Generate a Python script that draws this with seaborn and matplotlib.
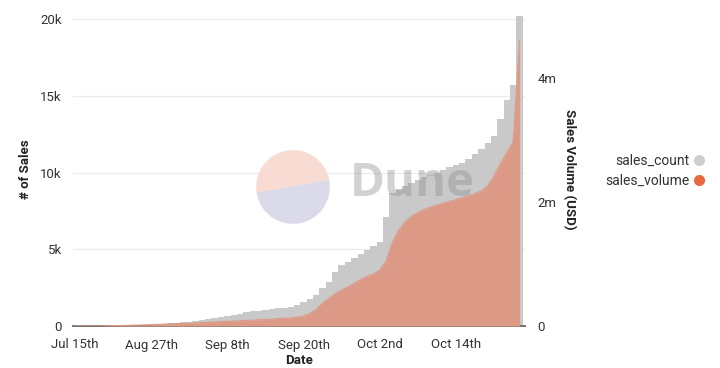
import matplotlib
matplotlib.use("Agg")
import matplotlib.pyplot as plt
from matplotlib.lines import Line2D
from matplotlib.patches import Wedge
import numpy as np
import pandas as pd
import seaborn as sns

sns.set_theme(style="white")
plt.rcParams["font.family"] = ["Roboto", "DejaVu Sans"]

# categorias do eixo x: um dia isolado em julho e depois dias seguidos
datas = ["2021-07-15"] + [d.strftime("%Y-%m-%d") for d in pd.date_range("2021-08-16", "2021-10-24")]

# vendas acumuladas (numero de vendas)
sales_count = [
    0, 0, 0, 0, 0, 20, 30, 40, 50, 60,
    70, 90, 110, 130, 150, 180, 210, 240, 280, 320,
    370, 430, 500, 580, 650, 720, 800, 900, 970, 1000,
    1050, 1100, 1150, 1180, 1220, 1370, 1560, 1750, 2000, 2500,
    2900, 3500, 4000, 4200, 4400, 4700, 4950, 5200, 5500, 7100,
    8700, 8900, 9100, 9300, 9500, 9700, 9850, 10000, 10150, 10350,
    10500, 10650, 10900, 11200, 11550, 11900, 12400, 13500, 14700, 15700,
    20200,
]

# volume acumulado em USD
sales_volume = [
    0, 0, 0, 0, 0, 5e3, 6e3, 8e3, 1.0e4, 1.2e4,
    1.5e4, 1.8e4, 2.1e4, 2.5e4, 3.0e4, 3.5e4, 3.8e4, 4.2e4, 4.5e4, 5.0e4,
    5.5e4, 6.0e4, 6.5e4, 7.0e4, 7.5e4, 8.0e4, 8.5e4, 9.0e4, 9.5e4, 1.0e5,
    1.05e5, 1.1e5, 1.2e5, 1.25e5, 1.3e5, 1.4e5, 1.6e5, 2.0e5, 2.7e5, 3.7e5,
    4.5e5, 5.2e5, 5.8e5, 6.3e5, 6.9e5, 7.5e5, 8.0e5, 8.4e5, 9.0e5, 1.05e6,
    1.35e6, 1.55e6, 1.68e6, 1.77e6, 1.83e6, 1.88e6, 1.92e6, 1.95e6, 1.98e6, 2.01e6,
    2.04e6, 2.07e6, 2.10e6, 2.14e6, 2.18e6, 2.26e6, 2.42e6, 2.62e6, 2.80e6, 2.97e6,
    4.6e6,
]

tick_datas = ["2021-07-15", "2021-08-27", "2021-09-08", "2021-09-20", "2021-10-02", "2021-10-14"]
tick_rotulos = ["Jul 15th", "Aug 27th", "Sep 8th", "Sep 20th", "Oct 2nd", "Oct 14th"]

df = pd.DataFrame({"Date": datas, "sales_count": sales_count, "sales_volume": sales_volume})
df["pos"] = np.arange(len(df))

COR_CINZA = "#c9c9c9"
COR_AREA = "#dc9a86"
COR_LARANJA = "#e8693f"
COR_TEXTO = "#333333"

fig = plt.figure(figsize=(7.2, 3.68), dpi=100)
ax = fig.add_axes([73 / 720, 1 - 326 / 368, 452 / 720, 313 / 368])

sns.barplot(data=df, x="Date", y="sales_count", color=COR_CINZA, width=1.0,
            saturation=1, edgecolor="none", ax=ax, zorder=2)
ax.set_ylim(0, 20400)
ax.set_xlim(-0.3, 70.87)
ax.set_yticks([0, 5000, 10000, 15000, 20000])
ax.set_yticklabels(["0", "5k", "10k", "15k", "20k"])
posicoes = [datas.index(d) for d in tick_datas]
ax.set_xticks(posicoes)
ax.set_xticklabels(tick_rotulos)
ax.yaxis.grid(True, color="#ececec", linewidth=1, zorder=0)
ax.set_axisbelow(True)
ax.tick_params(axis="y", length=0, labelsize=9.5, colors=COR_TEXTO, pad=8)
ax.tick_params(axis="x", length=0, labelsize=9.5, colors=COR_TEXTO, pad=9)
ax.set_xlabel("Date", fontsize=9.5, fontweight="bold", color="#222222", labelpad=2)
ax.set_ylabel("# of Sales", fontsize=9.5, fontweight="bold", color="#222222", labelpad=6)
for lado in ["left", "right", "top"]:
    ax.spines[lado].set_visible(False)
ax.spines["bottom"].set_color("#666666")
ax.spines["bottom"].set_linewidth(1.3)
ax.spines["bottom"].set_zorder(5)

ax2 = ax.twinx()
ax2.fill_between(df["pos"], df["sales_volume"], color=COR_AREA, linewidth=0, zorder=3)
sns.lineplot(data=df, x="pos", y="sales_volume", color=COR_AREA, linewidth=0.8, ax=ax2)
ax2.set_ylim(0, 5.05e6)
ax2.set_yticks([0, 2e6, 4e6])
ax2.set_yticklabels(["0", "2m", "4m"])
ax2.tick_params(axis="y", length=0, labelsize=9.5, colors=COR_TEXTO, pad=9)
ax2.set_ylabel("Sales Volume (USD)", fontsize=9.5, fontweight="bold", color="#222222",
               rotation=270, labelpad=14)
for lado in ["left", "right", "top", "bottom"]:
    ax2.spines[lado].set_visible(False)
ax2.set_xlim(ax.get_xlim())

# marca d'agua
ax_logo = fig.add_axes([255 / 720, 1 - 225 / 368, 76 / 720, 76 / 368])
ax_logo.set_xlim(-1.05, 1.05)
ax_logo.set_ylim(-1.05, 1.05)
ax_logo.set_aspect("equal")
ax_logo.axis("off")
ax_logo.add_patch(Wedge((0, 0), 1, 10, 190, color="#f8dcd3"))
ax_logo.add_patch(Wedge((0, 0), 1, 190, 370, color="#dadaeb"))
fig.text(412 / 720, 1 - 184 / 368, "Dune", fontsize=34, fontweight="bold",
         color="#8f8f8f", alpha=0.4, ha="center", va="center", family="Open Sans")

legenda = [
    Line2D([], [], marker="o", linestyle="", color="#cfcfcf", markersize=7),
    Line2D([], [], marker="o", linestyle="", color=COR_LARANJA, markersize=7),
]
fig.legend(legenda, ["sales_count", "sales_volume"], loc="center right",
           bbox_to_anchor=(0.998, 1 - 171 / 368), markerfirst=False, frameon=False,
           fontsize=10, handletextpad=0.2, labelspacing=0.45, handlelength=1.0,
           labelcolor=COR_TEXTO)

fig.savefig("out.png", dpi=100)
